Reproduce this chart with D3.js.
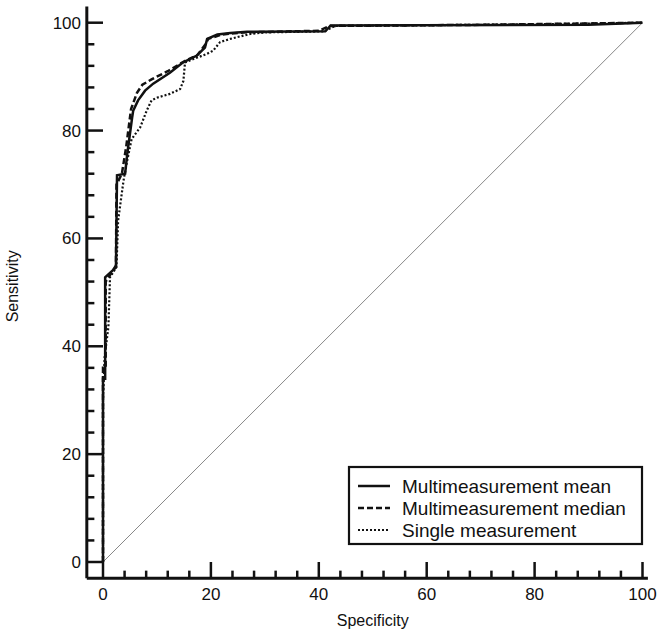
<!DOCTYPE html>
<html>
<head>
<meta charset="utf-8">
<script src="https://cdnjs.cloudflare.com/ajax/libs/d3/7.8.5/d3.min.js"></script>
<style>
  body { margin: 0; background: #fff; }
  text { font-family: "Liberation Sans", Arial, sans-serif; fill: #111; }
</style>
</head>
<body>
<script>
// ROC curves, [specificity, sensitivity]
const meanCurve = [
  [0, 0], [0, 34], [0.4, 34], [0.4, 52.8], [2.4, 54.6], [2.6, 71.7], [4.1, 72],
  [4.5, 75.7], [5.4, 82.4], [5.6, 83.7], [6.5, 85.6], [7.8, 87.4], [9.3, 88.7],
  [12.4, 90.7], [14.8, 92.6], [17.4, 93.9], [18.9, 95.4], [19.3, 97], [21.2, 97.8],
  [23.6, 98.1], [26.7, 98.3], [41.2, 98.4], [42.2, 99.5], [90, 99.6], [100, 100]
];
const medianCurve = [
  [0, 0], [0, 36], [0.5, 36], [0.5, 52], [1.8, 54], [2.4, 55], [2.5, 70], [3.5, 72],
  [4.3, 77], [5.2, 84], [6.3, 87], [7.3, 88.5], [9, 89.5], [12, 91], [15, 92.8],
  [17.5, 94], [19, 96], [19.5, 97], [22, 97.8], [26, 98.2], [40, 98.5], [42, 99.4],
  [70, 99.6], [100, 100]
];
const singleCurve = [
  [0, 0], [0, 30], [0.3, 38], [1.0, 43.6], [1.3, 52.8], [2.5, 54.7], [2.8, 63.3],
  [3.8, 70.7], [4.4, 74], [5.3, 78.4], [6.9, 80.6], [8.1, 83.7], [9.0, 85.6],
  [10, 86.1], [12.4, 86.8], [14.3, 87.7], [14.9, 89.2], [15.2, 92.6], [16.1, 93],
  [19.2, 94.2], [20.4, 94.8], [21.7, 96.4], [23.6, 97], [26, 97.6], [27.3, 97.9],
  [30, 98.2], [41, 98.4], [43, 99.4], [80, 99.7], [100, 100]
];
const diagonal = [[0, 0], [100, 100]];
const tickValues = [0, 20, 40, 60, 80, 100];
const seriesNames = ["Multimeasurement mean", "Multimeasurement median", "Single measurement"];

const width = 659;
const height = 634;

const svg = d3.select("body")
  .append("svg")
    .attr("width", width)
    .attr("height", height);

const x = d3.scaleLinear().domain([0, 100]).range([103, 642.5]);
const y = d3.scaleLinear().domain([0, 100]).range([562, 22.7]);

const minorTicks = d3.range(0, 101, 4).filter(v => v % 20 !== 0);

// y axis, ticks point inward
const yAxis = svg.append("g");
yAxis.append("line")
    .attr("x1", x(-3)).attr("x2", x(-3))
    .attr("y1", y(-3)).attr("y2", y(103))
    .attr("stroke", "#111").attr("stroke-width", 3);
yAxis.selectAll(".major")
  .data(tickValues)
  .enter().append("line")
    .attr("x1", x(-3)).attr("x2", x(0))
    .attr("y1", d => y(d)).attr("y2", d => y(d))
    .attr("stroke", "#111").attr("stroke-width", 2.5);
yAxis.selectAll(".minor")
  .data(minorTicks)
  .enter().append("line")
    .attr("x1", x(-3)).attr("x2", x(-1.6))
    .attr("y1", d => y(d)).attr("y2", d => y(d))
    .attr("stroke", "#111").attr("stroke-width", 2.5);
yAxis.selectAll("text")
  .data(tickValues)
  .enter().append("text")
    .attr("x", 81)
    .attr("y", d => y(d))
    .attr("dy", "0.35em")
    .attr("text-anchor", "end")
    .style("font-size", "17px")
    .text(d => d);

// x axis
const xAxis = svg.append("g");
xAxis.append("line")
    .attr("x1", x(-3)).attr("x2", x(101))
    .attr("y1", y(-3)).attr("y2", y(-3))
    .attr("stroke", "#111").attr("stroke-width", 3);
xAxis.selectAll(".major")
  .data(tickValues)
  .enter().append("line")
    .attr("x1", d => x(d)).attr("x2", d => x(d))
    .attr("y1", y(-3)).attr("y2", y(0))
    .attr("stroke", "#111").attr("stroke-width", 2.5);
xAxis.selectAll(".minor")
  .data(minorTicks)
  .enter().append("line")
    .attr("x1", d => x(d)).attr("x2", d => x(d))
    .attr("y1", y(-3)).attr("y2", y(-1.6))
    .attr("stroke", "#111").attr("stroke-width", 2.5);
xAxis.selectAll("text")
  .data(tickValues)
  .enter().append("text")
    .attr("x", d => x(d))
    .attr("y", 600)
    .attr("text-anchor", "middle")
    .style("font-size", "17px")
    .text(d => d);

// axis titles
svg.append("text")
    .attr("x", (x(0) + x(100)) / 2)
    .attr("y", 626)
    .attr("text-anchor", "middle")
    .style("font-size", "16px")
    .text("Specificity");
svg.append("text")
    .attr("transform", "translate(18," + ((y(0) + y(100)) / 2 - 6) + ") rotate(-90)")
    .attr("text-anchor", "middle")
    .style("font-size", "16px")
    .text("Sensitivity");

const line = d3.line().x(d => x(d[0])).y(d => y(d[1]));

// reference diagonal
svg.append("path")
    .attr("d", line(diagonal))
    .attr("fill", "none")
    .attr("stroke", "#888")
    .attr("stroke-width", 1);

// curves
svg.append("path")
    .attr("d", line(singleCurve))
    .attr("fill", "none")
    .attr("stroke", "#111")
    .attr("stroke-width", 2.2)
    .attr("stroke-dasharray", "2,2");
svg.append("path")
    .attr("d", line(medianCurve))
    .attr("fill", "none")
    .attr("stroke", "#111")
    .attr("stroke-width", 2.5)
    .attr("stroke-dasharray", "6,3");
svg.append("path")
    .attr("d", line(meanCurve))
    .attr("fill", "none")
    .attr("stroke", "#111")
    .attr("stroke-width", 2.5);

// legend
const legend = svg.append("g").attr("transform", "translate(349,467)");
legend.append("rect")
    .attr("width", 293).attr("height", 77)
    .attr("fill", "#fff")
    .attr("stroke", "#111").attr("stroke-width", 2.2);
const dashes = [null, "6,3", "2,2"];
const rows = legend.selectAll(".row")
  .data(seriesNames)
  .enter().append("g")
    .attr("transform", (d, i) => "translate(0," + (19 + i * 22) + ")");
rows.append("line")
    .attr("x1", 9).attr("x2", 41)
    .attr("stroke", "#111")
    .attr("stroke-width", (d, i) => i === 2 ? 2 : 2.5)
    .attr("stroke-dasharray", (d, i) => dashes[i]);
rows.append("text")
    .attr("x", 53)
    .attr("dy", "0.35em")
    .style("font-size", "19px")
    .text(d => d);
</script>
</body>
</html>
